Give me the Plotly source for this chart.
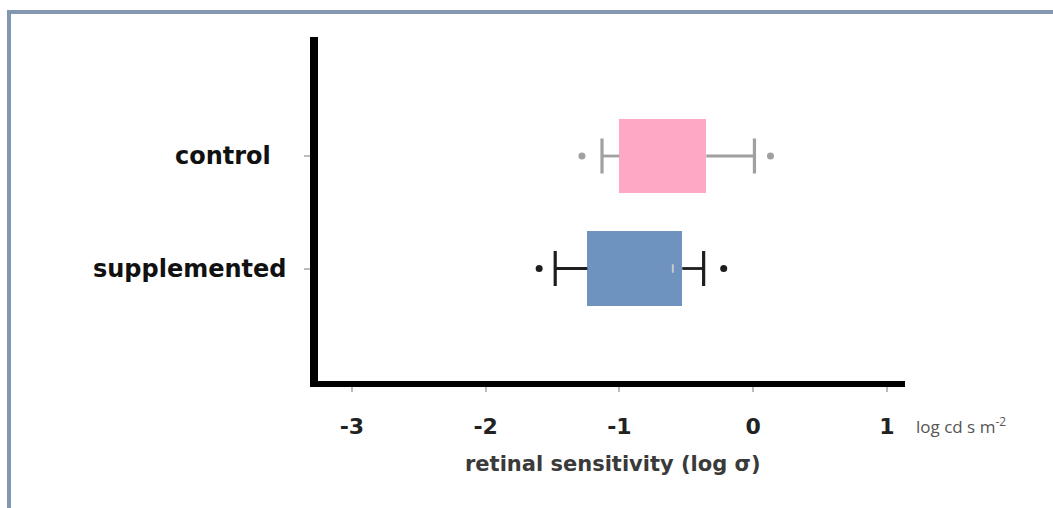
import plotly.graph_objects as go

# ---- data ----
groups = ["control", "supplemented"]
group_pos = [2, 1]
q1 = [-1.00, -1.24]
median = [-0.68, -0.60]
q3 = [-0.35, -0.53]
lower_whisker = [-1.13, -1.48]
upper_whisker = [0.01, -0.37]
outliers_low = [-1.28, -1.60]
outliers_high = [0.13, -0.22]
x_ticks = [-3, -2, -1, 0, 1]

box_colors = ["#FFA8C5", "#6F93BF"]
whisker_colors = ["#A0A0A0", "#1E1E1E"]

W, H = 1053, 508
ML, MR, MT, MB = 318, 148, 37, 127
PW, PH = W - ML - MR, H - MT - MB


def px_x(p):
    return (p - ML) / PW


def px_y(p):
    return 1 - (p - MT) / PH


fig = go.Figure()

# boxes as floating bars
for i in range(len(groups)):
    fig.add_trace(go.Bar(
        y=[group_pos[i]], x=[q3[i] - q1[i]], base=[q1[i]], orientation="h",
        width=0.66, marker=dict(color=box_colors[i], line=dict(width=0)),
        showlegend=False, hoverinfo="skip"))

for i in range(len(groups)):
    yv = group_pos[i]
    c = whisker_colors[i]
    # whisker lines
    fig.add_trace(go.Scatter(
        x=[lower_whisker[i], q1[i], None, q3[i], upper_whisker[i]],
        y=[yv, yv, None, yv, yv], mode="lines",
        line=dict(color=c, width=2.8), showlegend=False, hoverinfo="skip"))
    # caps
    fig.add_trace(go.Scatter(
        x=[lower_whisker[i], upper_whisker[i]], y=[yv, yv], mode="markers",
        marker=dict(symbol="line-ns", size=25, line=dict(color=c, width=3.2)),
        showlegend=False, hoverinfo="skip"))
    # outliers
    fig.add_trace(go.Scatter(
        x=[outliers_low[i], outliers_high[i]], y=[yv, yv], mode="markers",
        marker=dict(symbol="circle", size=7, color=c),
        showlegend=False, hoverinfo="skip"))

# small median mark on supplemented
fig.add_trace(go.Scatter(
    x=[median[1]], y=[group_pos[1]], mode="markers",
    marker=dict(symbol="line-ns", size=6, line=dict(color="#C8C8C8", width=2)),
    showlegend=False, hoverinfo="skip"))

fig.update_layout(
    width=W, height=H,
    margin=dict(l=ML, r=MR, t=MT, b=MB),
    paper_bgcolor="white", plot_bgcolor="white",
    xaxis=dict(range=[-3.254, 1.136], tickvals=x_ticks,
               ticktext=[str(v) for v in x_ticks],
               showgrid=False, zeroline=False,
               showline=True, linecolor="black", linewidth=6,
               ticks="outside", ticklen=5, tickwidth=2, tickcolor="#BBBBBB",
               ticklabelstandoff=16,
               tickfont=dict(family="DejaVu Sans", size=22, color="#222222", weight="bold")),
    yaxis=dict(range=[0, 3.058], tickvals=group_pos, showticklabels=False,
               showgrid=False, zeroline=False,
               showline=True, linecolor="black", linewidth=8,
               ticks="outside", ticklen=6, tickwidth=2, tickcolor="#BBBBBB"),
    bargap=0,
)

# category labels
label_right = [273, 289]
for i in range(len(groups)):
    fig.add_annotation(
        x=px_x(label_right[i]), xref="paper", y=group_pos[i], yref="y",
        text=groups[i], showarrow=False, xanchor="right", yanchor="middle",
        font=dict(family="DejaVu Sans", size=24, color="#111111", weight="bold"))

# unit label
fig.add_annotation(x=px_x(914), xref="paper", y=px_y(425), yref="paper",
                   text="log cd s m<sup>-2</sup>", showarrow=False,
                   xanchor="left", yanchor="middle",
                   font=dict(family="Open Sans", size=17, color="#555555"))

# x title
fig.add_annotation(x=px_x(613), xref="paper", y=px_y(464), yref="paper",
                   text="retinal sensitivity (log σ)", showarrow=False,
                   xanchor="center", yanchor="middle",
                   font=dict(family="DejaVu Sans", size=21, color="#3A3A3A", weight="bold"))

# frame (top and left edges)
frame_c = "#8497B0"
fig.add_shape(type="line", xref="paper", yref="paper",
              x0=px_x(7), x1=px_x(1053), y0=px_y(12), y1=px_y(12),
              line=dict(color=frame_c, width=4))
fig.add_shape(type="line", xref="paper", yref="paper",
              x0=px_x(9), x1=px_x(9), y0=px_y(10), y1=px_y(508),
              line=dict(color=frame_c, width=4))

fig.write_html("out.html", config={"displayModeBar": False},
               post_script="document.body.style.margin='0';document.body.style.overflow='hidden';")
